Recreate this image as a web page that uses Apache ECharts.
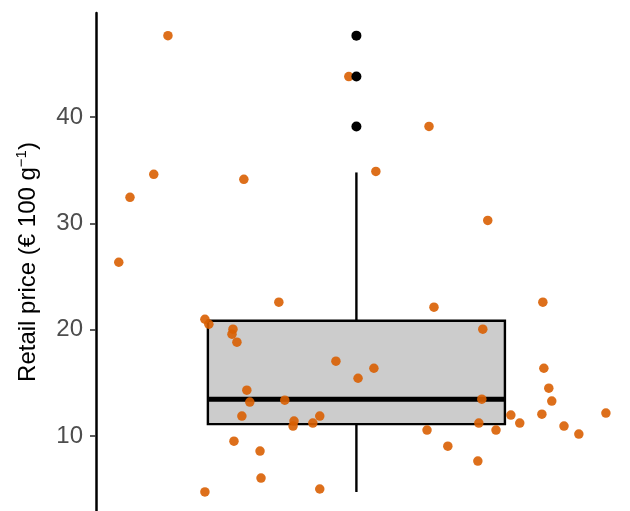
<!DOCTYPE html>
<html>
<head>
<meta charset="utf-8">
<script src="https://cdn.jsdelivr.net/npm/echarts@6/dist/echarts.min.js"></script>
<style>
html,body{margin:0;padding:0;background:#fff;}
#chart{width:630px;height:511px;}
</style>
</head>
<body>
<div id="chart"></div>
<script>
// Jittered observations: horizontal jitter offset (box centre = 0) and retail price
var jitterX = [-0.571,-0.614,-0.686,-0.720,-0.341,-0.023,0.059,0.220,0.398,-0.235,
               0.235,0.565,-0.459,-0.447,-0.374,-0.377,-0.362,0.383,-0.062,0.053,
               0.005,0.568,0.583,-0.332,-0.323,-0.217,0.380,0.592,-0.347,-0.111,
               0.468,0.562,0.756,-0.189,-0.192,-0.132,0.495,0.371,0.629,0.214,
               0.423,0.674,-0.371,0.277,-0.292,0.368,-0.289,-0.111,-0.459];
var prices  = [47.67,34.62,32.46,26.35,34.15,43.82,34.90,39.13,30.29,22.59,
               22.12,22.59,20.99,20.52,20.05,19.58,18.83,20.05,17.04,16.38,
               15.44,16.38,14.50,14.32,13.20,13.38,13.47,13.29,11.88,11.88,
               11.97,12.06,12.16,11.41,10.94,11.22,11.22,11.22,10.94,10.56,
               10.56,10.19,9.52,9.05,8.59,7.65,6.05,5.02,4.74];
// Box plot statistics: lower whisker, Q1, median, Q3, upper whisker
var boxStats = [4.74, 11.12, 13.47, 20.85, 34.80];
var outliers = [47.67, 43.82, 39.13];
var yTicks = [10, 20, 30, 40];

var jitterData = jitterX.map(function (x, i) { return [x, prices[i]]; });
var outlierData = outliers.map(function (v) { return [0, v]; });

var chart = echarts.init(document.getElementById('chart'), null, {renderer: 'canvas'});
chart.setOption({
  animation: false,
  backgroundColor: '#ffffff',
  grid: {left: 96, right: 0, top: 13, bottom: 0, containLabel: false},
  xAxis: {
    type: 'value', min: -0.789, max: 0.829, show: false
  },
  yAxis: {
    type: 'value', min: 2.95, max: 49.8,
    axisLine: {show: true, onZero: false, lineStyle: {color: '#000', width: 2.5}},
    axisTick: {show: true, length: 6, customValues: yTicks, lineStyle: {color: '#333', width: 1.6}},
    axisLabel: {customValues: yTicks, color: '#4D4D4D', fontSize: 24, fontFamily: 'Liberation Sans', margin: 13},
    splitLine: {show: false},
    name: '{a|Retail price (€ 100 g}{s|−1}{a|)}',
    nameLocation: 'middle', nameRotate: 90, nameGap: 54,
    nameTextStyle: {
      fontFamily: 'Liberation Sans', color: '#000',
      rich: {
        a: {fontSize: 24, fontFamily: 'Liberation Sans', color: '#000', lineHeight: 28},
        s: {fontSize: 15, fontFamily: 'Liberation Sans', color: '#000', lineHeight: 15, verticalAlign: 'top'}
      }
    }
  },
  series: [
    {
      type: 'custom', z: 1,
      data: [[0].concat(boxStats)],
      renderItem: function (params, api) {
        var x = api.value(0);
        var lo = api.coord([x, api.value(1)]);
        var q1 = api.coord([x, api.value(2)]);
        var md = api.coord([x, api.value(3)]);
        var q3 = api.coord([x, api.value(4)]);
        var hi = api.coord([x, api.value(5)]);
        var w = api.size([0.9, 0])[0];
        var cx = q1[0];
        return {
          type: 'group',
          children: [
            {type: 'line', shape: {x1: cx, y1: q3[1], x2: cx, y2: hi[1]}, style: {stroke: '#000', lineWidth: 2.4}},
            {type: 'line', shape: {x1: cx, y1: q1[1], x2: cx, y2: lo[1]}, style: {stroke: '#000', lineWidth: 2.4}},
            {type: 'rect', shape: {x: cx - w / 2, y: q3[1], width: w, height: q1[1] - q3[1]},
             style: {fill: '#CCCCCC', stroke: '#000', lineWidth: 2.4}},
            {type: 'line', shape: {x1: cx - w / 2, y1: md[1], x2: cx + w / 2, y2: md[1]}, style: {stroke: '#000', lineWidth: 5}}
          ]
        };
      }
    },
    {
      type: 'scatter', z: 2, data: jitterData, symbolSize: 9.5,
      itemStyle: {color: '#D95F02', opacity: 0.9}
    },
    {
      type: 'scatter', z: 3, data: outlierData, symbolSize: 10,
      itemStyle: {color: '#000', opacity: 1}
    }
  ]
});
</script>
</body>
</html>
